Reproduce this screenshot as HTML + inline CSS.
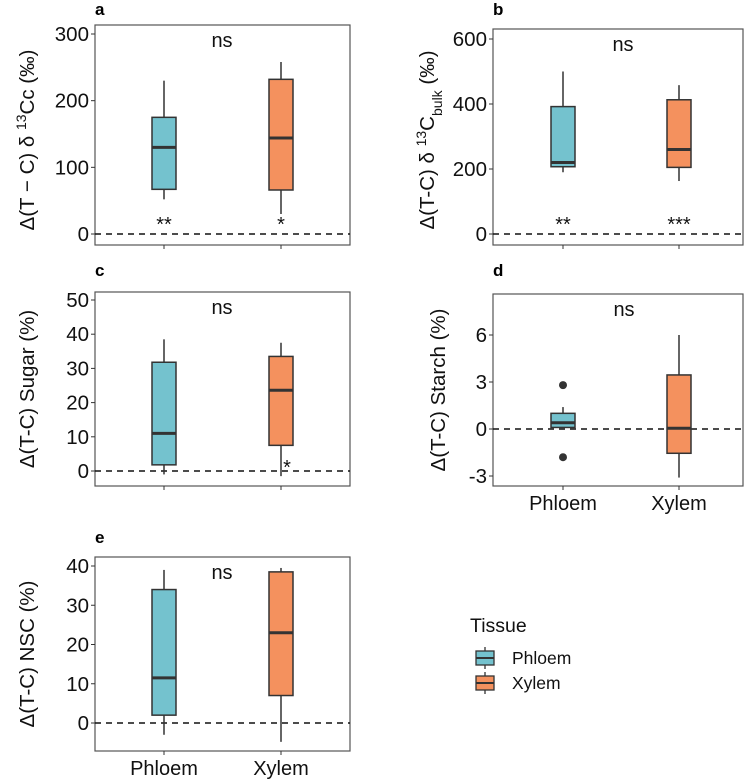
<!DOCTYPE html>
<html><head><meta charset="utf-8"><style>
body{margin:0;background:#fff}
svg{display:block;font-family:"Liberation Sans",sans-serif}
</style></head><body>
<svg id="c" width="750" height="781" viewBox="0 0 750 781" xmlns="http://www.w3.org/2000/svg"></svg>
<script>
const NS="http://www.w3.org/2000/svg";
const svg=document.getElementById('c');
const categories=["Phloem","Xylem"];
const colors=["#74C2CE","#F4915E"];
// stats per panel: [lowWhisker, Q1, median, Q3, highWhisker]
const statsA=[[52,67,130,175,230],[30,66,144,232,258]];
const statsB=[[190,207,220,392,500],[163,205,260,413,458]];
const statsC=[[-1,1.8,11,31.8,38.5],[-1.5,7.5,23.6,33.5,37.5]];
const statsD=[[0.1,0.1,0.4,1.0,1.4],[-3.1,-1.55,0.05,3.45,6.0]];
const statsE=[[-3,2,11.5,34,39],[-4.8,7,23,38.5,39.5]];
const outliersD=[[2.8,-1.8],[]];
const ticksA=[0,100,200,300],ticksB=[0,200,400,600],ticksC=[0,10,20,30,40,50],ticksD=[-3,0,3,6],ticksE=[0,10,20,30,40];
const starsA=["**","*"],starsB=["**","***"],starsC=["","*"];
function el(t,a,p){const e=document.createElementNS(NS,t);for(const k in a)e.setAttribute(k,a[k]);(p||svg).appendChild(e);return e;}
function txt(s,a,p){const e=el('text',a,p);e.textContent=s;return e;}
function panel(cfg){
  const g=el('g',{});
  
  
  const {x0,x1,y0,y1}=cfg;
  const ys=v=>cfg.pz+(cfg.pt-cfg.pz)*(v-cfg.t0)/(cfg.t1-cfg.t0);
  const xs=i=>cfg.xc[i];
  const lab=txt(cfg.id,{x:cfg.lx,y:cfg.ly,'font-size':17,'font-weight':'bold'},g);
  
  const fr=el('rect',{x:x0,y:y0,width:x1-x0,height:y1-y0,fill:'none',stroke:'#555','stroke-width':1.2},g);
  
  cfg.ticks.forEach(t=>{
    el('line',{x1:x0-4,x2:x0,y1:ys(t),y2:ys(t),stroke:'#333','stroke-width':1},g);
    const tl=txt(String(t),{x:x0-6,y:ys(t)+7,'font-size':20.5,'text-anchor':'end',fill:'#111'},g);
    
  });
  categories.forEach((c,i)=>{
    el('line',{x1:xs(i),x2:xs(i),y1:y1,y2:y1+4,stroke:'#333','stroke-width':1},g);
    if(cfg.xlab){const xl=txt(c,{x:xs(i),y:y1+24,'font-size':20,'text-anchor':'middle',fill:'#111'},g);
      }
  });
  const ref=el('line',{x1:x0,x2:x1,y1:ys(0),y2:ys(0),stroke:'#111','stroke-width':1.5,'stroke-dasharray':'6,5'},g);
  
  cfg.stats.forEach((s,i)=>{
    const bg=el('g',{},g);
    
    
    const x=xs(i),w=12;
    el('line',{x1:x,x2:x,y1:ys(s[0]),y2:ys(s[1]),stroke:'#333','stroke-width':1.5},bg);
    el('line',{x1:x,x2:x,y1:ys(s[3]),y2:ys(s[4]),stroke:'#333','stroke-width':1.5},bg);
    el('rect',{x:x-w,y:ys(s[3]),width:2*w,height:ys(s[1])-ys(s[3]),fill:colors[i],stroke:'#333','stroke-width':1.5},bg);
    el('line',{x1:x-w,x2:x+w,y1:ys(s[2]),y2:ys(s[2]),stroke:'#333','stroke-width':3},bg);
    if(cfg.out)cfg.out[i].forEach(o=>{const c=el('circle',{cx:x,cy:ys(o),r:4,fill:'#333'},bg);
      });
    if(cfg.stars&&cfg.stars[i]){const st=txt(cfg.stars[i],{x:x+(cfg.starDx?cfg.starDx[i]:0),y:cfg.starY,'font-size':20,'text-anchor':'middle',fill:'#111'},bg);
      }
  });
  const ns=txt('ns',{x:cfg.nsx,y:y0+22,'font-size':20,'text-anchor':'middle',fill:'#111'},g);
  
  const yt=el('text',{transform:`translate(${cfg.tx},${cfg.ty||(y0+y1)/2}) rotate(-90)`,'font-size':20.5,'text-anchor':'middle',fill:'#111'},g);
  yt.innerHTML=cfg.title;
  
}
panel({id:'a',x0:95,x1:350,y0:25,y1:245,pz:234,pt:34,t0:0,t1:300,ticks:ticksA,xc:[164,281],stats:statsA,stars:starsA,starY:231,lx:95,ly:15,nsx:222,tx:34,ty:140,
 title:'Δ(T − C) δ <tspan baseline-shift="super" font-size="14">13</tspan>Cc (‰)'});
panel({id:'b',x0:493,x1:743,y0:29,y1:245,pz:234,pt:39,t0:0,t1:600,ticks:ticksB,xc:[563,679],stats:statsB,stars:starsB,starY:231,lx:493,ly:15,nsx:623,tx:434,ty:140,
 title:'Δ(T-C) δ <tspan baseline-shift="super" font-size="14">13</tspan>C<tspan baseline-shift="sub" font-size="14">bulk</tspan> (‰)'});
panel({id:'c',x0:95,x1:350,y0:292,y1:486,pz:471,pt:300,t0:0,t1:50,ticks:ticksC,xc:[164,281],stats:statsC,stars:starsC,starDx:[0,6],starY:474,lx:95,ly:276,nsx:222,tx:34,
 title:'Δ(T-C) Sugar (%)'});
panel({id:'d',x0:493,x1:743,y0:294,y1:486,pz:429,pt:335,t0:0,t1:6,ticks:ticksD,xc:[563,679],stats:statsD,out:outliersD,lx:493,ly:276,nsx:624,tx:445,xlab:true,
 title:'Δ(T-C) Starch (%)'});
panel({id:'e',x0:95,x1:350,y0:557,y1:751,pz:723,pt:566,t0:0,t1:40,ticks:ticksE,xc:[164,281],stats:statsE,lx:95,ly:543,nsx:222,tx:34,xlab:true,
 title:'Δ(T-C) NSC (%)'});
// legend
const lg=el('g',{});

const lt=txt('Tissue',{x:470,y:632,'font-size':19.5,fill:'#111'},lg);

categories.forEach((c,i)=>{
  const e=el('g',{},lg);
  
  
  const cy=658+i*25;
  el('line',{x1:485,x2:485,y1:cy-11,y2:cy+11,stroke:'#333','stroke-width':1.3},e);
  el('rect',{x:476,y:cy-7,width:18,height:14,fill:colors[i],stroke:'#333','stroke-width':1.3},e);
  el('line',{x1:476,x2:494,y1:cy,y2:cy,stroke:'#333','stroke-width':2},e);
  txt(c,{x:512,y:cy+6,'font-size':17.5,fill:'#111'},e);
});
</script>
</body></html>
